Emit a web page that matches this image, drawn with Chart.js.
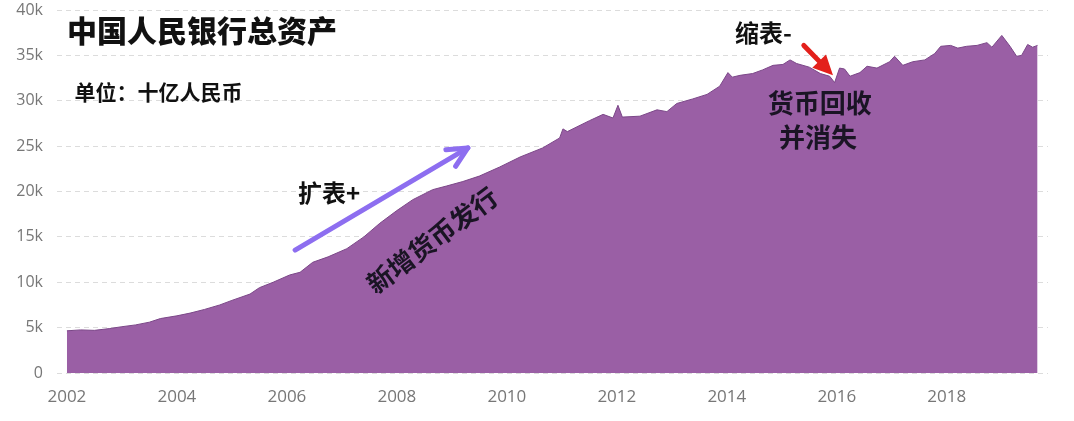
<!DOCTYPE html>
<html>
<head>
<meta charset="utf-8">
<script src="https://cdn.jsdelivr.net/npm/chart.js@4"></script>
<style>
  html, body { margin: 0; padding: 0; background: #fff; }
  #wrap { width: 1074px; height: 421px; }
</style>
</head>
<body>
<div id="wrap"><canvas id="c"></canvas></div>
<script>
// 年份（小数表示月份）与总资产（十亿人民币）
const years = [
  2002.00, 2002.25, 2002.50, 2002.78, 2003.00, 2003.25, 2003.50, 2003.70,
  2004.00, 2004.24, 2004.50, 2004.78, 2005.00, 2005.33, 2005.50, 2005.75,
  2006.05, 2006.24, 2006.47, 2006.75, 2007.09, 2007.40, 2007.69, 2008.00,
  2008.29, 2008.65, 2008.90, 2009.20, 2009.50, 2009.87, 2010.24, 2010.65,
  2010.96, 2011.02, 2011.10, 2011.50, 2011.75, 2011.93, 2012.02, 2012.10,
  2012.42, 2012.73, 2012.91, 2013.09, 2013.38, 2013.64, 2013.87, 2014.02,
  2014.10, 2014.24, 2014.47, 2014.65, 2014.84, 2015.02, 2015.15, 2015.27,
  2015.50, 2015.70, 2015.87, 2015.96, 2016.05, 2016.14, 2016.24, 2016.42,
  2016.55, 2016.73, 2016.96, 2017.05, 2017.20, 2017.38, 2017.60, 2017.78,
  2017.89, 2018.07, 2018.20, 2018.36, 2018.55, 2018.73, 2018.82, 2019.00,
  2019.15, 2019.27, 2019.36, 2019.47, 2019.56, 2019.65
];
const totalAssets = [
  4650, 4750, 4700, 4900, 5100, 5300, 5600, 6000,
  6300, 6600, 7000, 7500, 8000, 8700, 9400, 10000,
  10800, 11100, 12200, 12800, 13700, 15000, 16500, 17900,
  19100, 20200, 20600, 21100, 21700, 22700, 23800, 24800,
  25900, 26900, 26600, 27800, 28500, 28100, 29500, 28200,
  28300, 29000, 28800, 29700, 30200, 30700, 31600, 33100,
  32600, 32800, 33000, 33400, 33900, 34000, 34500, 34100,
  33700, 33000, 32700, 32000, 33600, 33500, 32700, 33100,
  33800, 33600, 34300, 34900, 33900, 34300, 34500, 35200,
  36000, 36100, 35800, 36000, 36100, 36400, 35900, 37200,
  36000, 34900, 35000, 36200, 35900, 36100
];
const xTicks = [2002, 2004, 2006, 2008, 2010, 2012, 2014, 2016, 2018];
const yTicks = [0, 5000, 10000, 15000, 20000, 25000, 30000, 35000, 40000];

const points = years.map((y, i) => ({ x: y, y: totalAssets[i] }));

function arrow(ctx, x1, y1, x2, y2, color, width, head, filled) {
  const a = Math.atan2(y2 - y1, x2 - x1);
  ctx.save();
  ctx.strokeStyle = color;
  ctx.fillStyle = color;
  ctx.lineWidth = width;
  ctx.lineCap = 'round';
  ctx.lineJoin = 'round';
  ctx.beginPath();
  ctx.moveTo(x1, y1);
  ctx.lineTo(filled ? x2 - Math.cos(a) * head * 0.6 : x2, filled ? y2 - Math.sin(a) * head * 0.6 : y2);
  ctx.stroke();
  ctx.beginPath();
  ctx.moveTo(x2 - head * Math.cos(a - 0.45), y2 - head * Math.sin(a - 0.45));
  ctx.lineTo(x2, y2);
  ctx.lineTo(x2 - head * Math.cos(a + 0.45), y2 - head * Math.sin(a + 0.45));
  if (filled) { ctx.closePath(); ctx.fill(); } else { ctx.stroke(); }
  ctx.restore();
}

const notes = {
  id: 'notes',
  afterDatasetsDraw(chart) {
    const { ctx } = chart;
    const sx = chart.scales.x, sy = chart.scales.y;
    const px = v => sx.getPixelForValue(v);
    const py = v => sy.getPixelForValue(v);
    const cjk = '"Noto Sans CJK SC", sans-serif';
    ctx.save();
    ctx.fillStyle = '#111';
    ctx.textBaseline = 'middle';
    ctx.textAlign = 'left';
    ctx.font = '900 30px ' + cjk;
    ctx.fillText('中国人民银行总资产', px(2002.0), py(37700));
    ctx.font = 'bold 21px ' + cjk;
    ctx.fillText('单位：十亿人民币', px(2002.14), py(31000));
    ctx.font = 'bold 24px ' + cjk;
    ctx.fillText('扩表+', px(2006.2), py(19800));
    ctx.fillText('缩表-', px(2014.15), py(37500));
    ctx.textAlign = 'center';
    ctx.font = 'bold 26px ' + cjk;
    ctx.fillStyle = '#1a1424';
    ctx.fillText('货币回收', px(2015.69), py(29750));
    ctx.fillText('并消失', px(2015.66), py(26000));
    ctx.save();
    ctx.translate(px(2008.64), py(14650));
    ctx.rotate(-37 * Math.PI / 180);
    ctx.font = 'bold 26px ' + cjk;
    ctx.fillText('新增货币发行', 0, 0);
    ctx.restore();
    ctx.restore();
    arrow(ctx, px(2006.15), py(13550), px(2009.29), py(24800), '#8d6ef0', 5, 22, false);
    arrow(ctx, px(2015.40), py(36100), px(2015.93), py(32800), '#e3201b', 5, 22, true);
  }
};

new Chart(document.getElementById('c'), {
  type: 'line',
  data: {
    datasets: [{
      data: points,
      borderColor: '#7b4788',
      borderWidth: 1,
      backgroundColor: '#9a5fa5',
      fill: 'origin',
      pointRadius: 0,
      tension: 0
    }]
  },
  options: {
    responsive: true,
    maintainAspectRatio: false,
    animation: false,
    layout: { padding: { left: 0, right: 26, top: 10, bottom: 0 } },
    plugins: { legend: { display: false }, tooltip: { enabled: false } },
    scales: {
      x: {
        type: 'linear',
        min: 2001.82,
        max: 2019.84,
        afterBuildTicks: s => { s.ticks = xTicks.map(v => ({ value: v })); },
        afterFit: s => { s.height = 48; s.paddingLeft = 0; s.paddingRight = 0; },
        grid: { display: false },
        border: { display: false },
        ticks: {
          color: '#777',
          font: { family: '"Open Sans", sans-serif', size: 17 },
          padding: 6,
          maxRotation: 0,
          callback: v => String(v)
        }
      },
      y: {
        min: 0,
        max: 40000,
        afterBuildTicks: s => { s.ticks = yTicks.map(v => ({ value: v })); },
        afterFit: s => { s.width = 57; s.paddingTop = 0; s.paddingBottom = 0; },
        border: { display: false, dash: [5, 4] },
        grid: { color: '#dcdcdc', lineWidth: 1, drawTicks: false },
        ticks: {
          color: '#777',
          font: { family: '"Open Sans", sans-serif', size: 16 },
          padding: 14,
          callback: v => v === 0 ? '0' : (v / 1000) + 'k'
        }
      }
    }
  },
  plugins: [notes]
});
</script>
</body>
</html>
